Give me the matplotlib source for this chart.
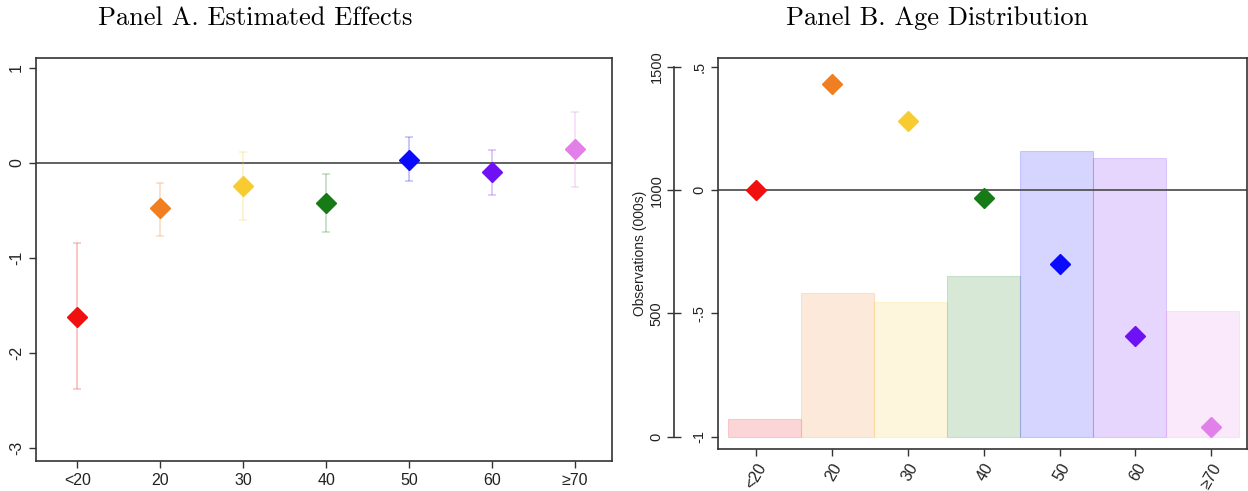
import numpy as np
import matplotlib
matplotlib.use("Agg")
import matplotlib.pyplot as plt

# data
ages = ["<20", "20", "30", "40", "50", "60", "≥70"]
colors = ["#f01010", "#f07f22", "#f8cc30", "#167a16", "#0a0aff", "#7010f5", "#e080e8"]

eff_a = [-1.62, -0.48, -0.24, -0.42, 0.03, -0.10, 0.15]
lo_a = [-2.38, -0.77, -0.60, -0.73, -0.19, -0.34, -0.25]
hi_a = [-0.84, -0.21, 0.12, -0.12, 0.27, 0.14, 0.54]

eff_b = [0.0, 0.43, 0.28, -0.03, -0.30, -0.59, -0.96]
obs_b = [70, 583, 547, 652, 1158, 1130, 510]

plt.rcParams['font.family'] = ['Liberation Sans', 'DejaVu Sans']

fig = plt.figure(figsize=(12.48, 4.91), dpi=100)
W, H = 1248, 491


def px_axes(l, t, r, b):
    return fig.add_axes([l / W, 1 - b / H, (r - l) / W, (b - t) / H])


def style(ax):
    for s in ax.spines.values():
        s.set_color("#333333")
        s.set_linewidth(1.2)
    ax.tick_params(colors="#333333", labelcolor="#222222", labelsize=11.5, length=5, width=1)


# ---- Panel A
ax = px_axes(36, 58, 612, 461)
style(ax)
x = np.arange(len(ages))
ax.axhline(0, color="#555555", lw=1.3, zorder=1)
for i in range(len(ages)):
    ax.errorbar(x[i], eff_a[i], yerr=[[eff_a[i] - lo_a[i]], [hi_a[i] - eff_a[i]]],
                fmt="none", ecolor=colors[i], alpha=0.25, elinewidth=1.3, capsize=3, capthick=1.2)
    ax.plot(x[i], eff_a[i], marker="D", ms=10, color=colors[i], mec=colors[i], ls="none", zorder=3)
ax.set_xlim(-0.5, 6.45)
ax.set_ylim(-3.14, 1.105)
ax.set_yticks([1, 0, -1, -2, -3])
ax.set_yticklabels(["1", "0", "-1", "-2", "-3"], rotation=90, va="center")
ax.set_xticks(x)
ax.set_xticklabels(ages)

# ---- Panel B
bx = px_axes(718, 58, 1247, 449)
style(bx)
ylo, yhi = -1.05, 0.536
bx.set_ylim(ylo, yhi)
bx.set_xlim(-0.5, 6.47)
edges = np.linspace(-0.37, 6.37, len(ages) + 1)
ox = bx.twinx()
ox.set_ylim((ylo + 1) * 1000, (yhi + 1) * 1000)
ox.bar(edges[:-1], obs_b, width=np.diff(edges), align="edge", color=colors, alpha=0.17,
       edgecolor=colors, linewidth=0.8, zorder=1)
ox.yaxis.tick_left()
ox.yaxis.set_label_position("left")
ox.spines["left"].set_position(("outward", 32))
ox.spines["left"].set_bounds(0, 1500)
ox.spines["right"].set_visible(False)
ox.spines["top"].set_visible(False)
ox.spines["bottom"].set_visible(False)
ox.spines["left"].set_color("#333333")
ox.spines["left"].set_linewidth(1.2)
ox.set_yticks([0, 500, 1000, 1500])
ox.set_yticklabels(["0", "500", "1000", "1500"], rotation=90, va="center")
ox.tick_params(axis="y", direction="inout", length=10, width=1, labelsize=10.5,
               colors="#333333", labelcolor="#222222", pad=2)
ox.set_ylabel("Observations (000s)", fontsize=10, color="#222222", labelpad=2)

bx.set_zorder(ox.get_zorder() + 1)
bx.patch.set_visible(False)
bx.axhline(0, color="#555555", lw=1.3, zorder=1)
for i in range(len(ages)):
    bx.plot(x[i], eff_b[i], marker="D", ms=10, color=colors[i], mec=colors[i], ls="none", zorder=3)
bx.set_yticks([0.5, 0, -0.5, -1])
bx.set_yticklabels([".5", "0", "-.5", "-1"], rotation=90, va="center")
bx.tick_params(axis="y", labelsize=10.5)
bx.set_xticks(x)
bx.set_xticklabels(ages, rotation=60, ha="right", rotation_mode="anchor")

# titles
fig.text(255 / W, 1 - 18 / H, "Panel A. Estimated Effects", family="cmr10", fontsize=19,
         ha="center", va="center")
fig.text(937 / W, 1 - 18 / H, "Panel B. Age Distribution", family="cmr10", fontsize=19,
         ha="center", va="center")

fig.savefig("out.png", dpi=100)
